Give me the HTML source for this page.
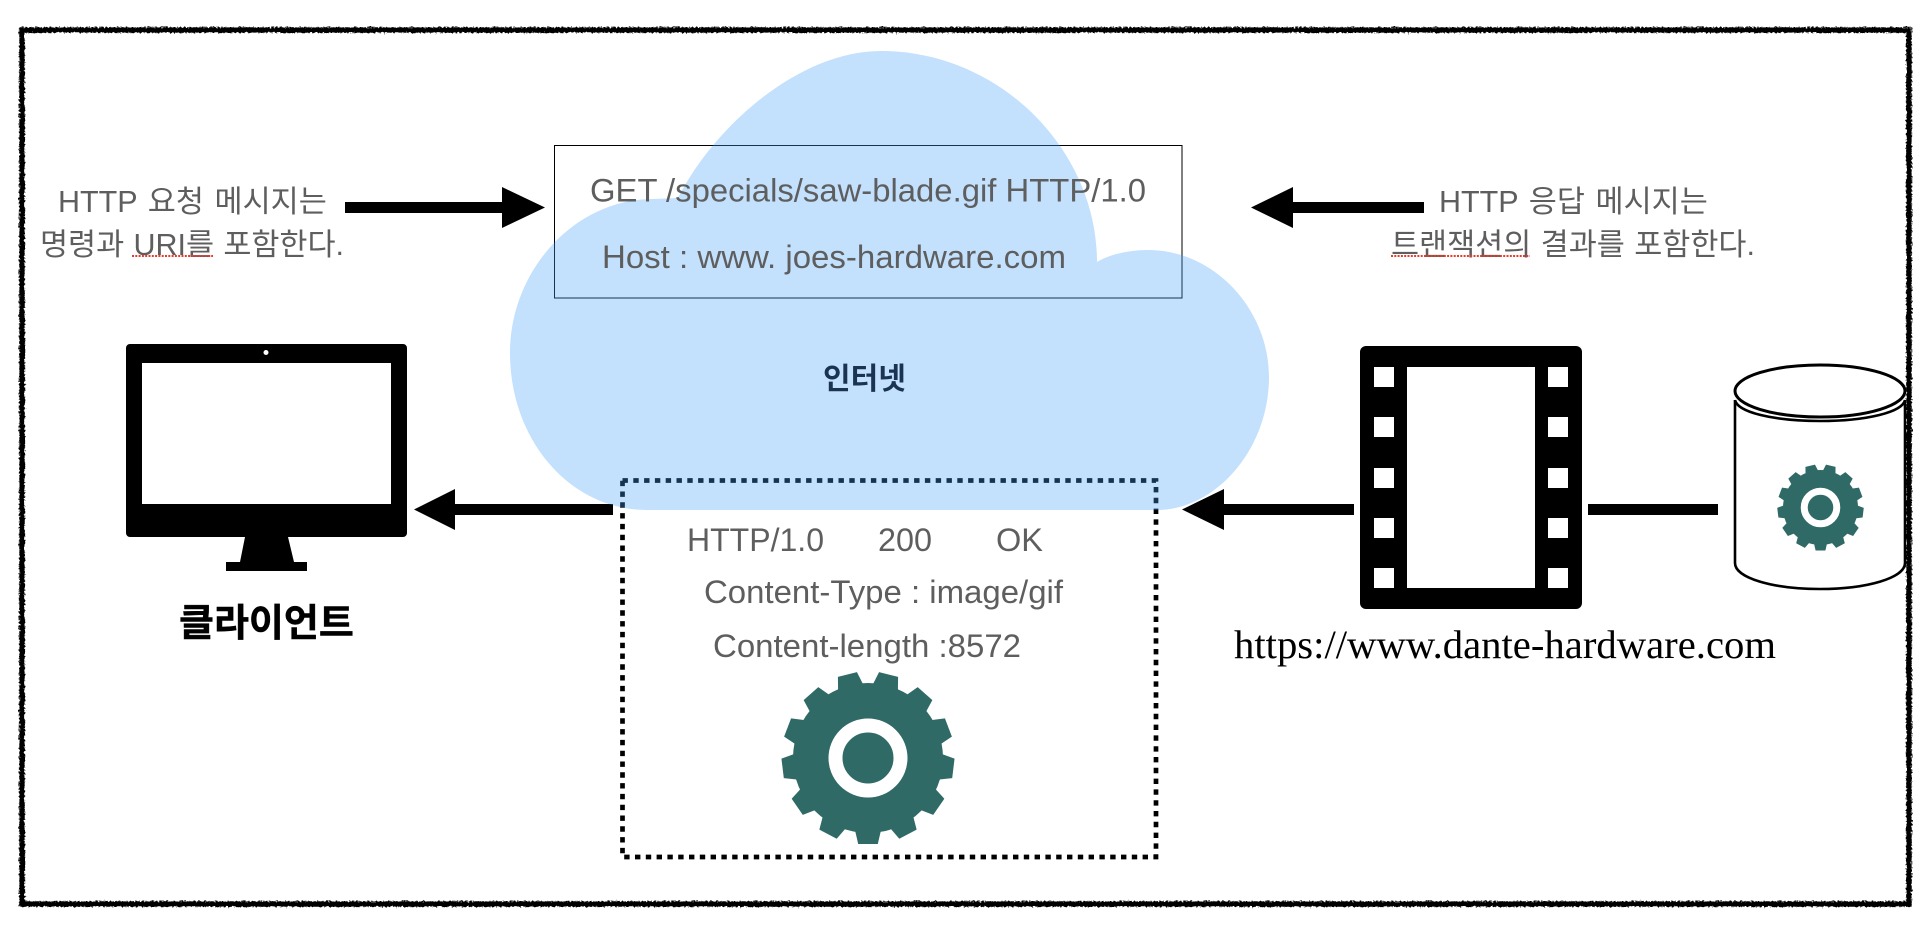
<!DOCTYPE html>
<html><head><meta charset="utf-8"><style>
html,body{margin:0;padding:0;background:#fff;width:1932px;height:928px;overflow:hidden}
svg{display:block}
.k{font-family:"Liberation Sans","Noto Sans CJK KR",sans-serif;font-size:30.5px;fill:#5e5e5e}
.t{font-family:"Liberation Sans","Noto Sans CJK KR",sans-serif;font-size:32.5px;fill:#5e5e5e}
.b{font-family:"Liberation Sans","Noto Sans CJK KR",sans-serif;font-weight:700}
.s{font-family:"Liberation Serif",serif;font-size:40px;fill:#000}
</style></head><body>
<svg width="1932" height="928" viewBox="0 0 1932 928" xmlns="http://www.w3.org/2000/svg">
<defs>
<filter id="rough" filterUnits="userSpaceOnUse" x="0" y="0" width="1932" height="928">
<feTurbulence type="fractalNoise" baseFrequency="0.5" numOctaves="2" seed="3" result="n"/>
<feDisplacementMap in="SourceGraphic" in2="n" scale="4" xChannelSelector="R" yChannelSelector="G"/>
</filter>
<g id="tooth"><polygon points="-12.7,73.5 -9.8,86 9.8,86 12.7,73.5"/></g>
<g id="gear">
<circle r="75"/>
<use href="#tooth"/>
<use href="#tooth" transform="rotate(27.692)"/>
<use href="#tooth" transform="rotate(55.385)"/>
<use href="#tooth" transform="rotate(83.077)"/>
<use href="#tooth" transform="rotate(110.769)"/>
<use href="#tooth" transform="rotate(138.462)"/>
<use href="#tooth" transform="rotate(166.154)"/>
<use href="#tooth" transform="rotate(193.846)"/>
<use href="#tooth" transform="rotate(221.538)"/>
<use href="#tooth" transform="rotate(249.231)"/>
<use href="#tooth" transform="rotate(276.923)"/>
<use href="#tooth" transform="rotate(304.615)"/>
<use href="#tooth" transform="rotate(332.308)"/>
<circle r="32.5" fill="none" stroke="#fff" stroke-width="14"/>
</g>
</defs>

<rect x="22" y="30" width="1887" height="874" fill="none" stroke="#000" stroke-width="5.5" filter="url(#rough)"/>

<!-- request box -->
<rect x="554.5" y="145.5" width="627.5" height="152.5" fill="none" stroke="#000" stroke-width="1"/>

<!-- arrows -->
<g fill="#000">
<rect x="345" y="202" width="158" height="11"/><polygon points="502,187 545,207.5 502,228"/>
<rect x="1292" y="202" width="132" height="11"/><polygon points="1293,187 1251,207.5 1293,228"/>
<rect x="454" y="504" width="159" height="11"/><polygon points="455,489 414,509.5 455,530"/>
<rect x="1223" y="504" width="131" height="11"/><polygon points="1224,489 1182,509.5 1224,530"/>
<rect x="1588" y="504" width="130" height="11"/>
</g>

<!-- monitor -->
<path fill="#000" fill-rule="evenodd" d="M130,344H403a4,4 0 0 1 4,4V533a4,4 0 0 1 -4,4H130a4,4 0 0 1 -4,-4V348a4,4 0 0 1 4,-4ZM142,363V504H391V363Z"/>
<circle cx="266" cy="352.5" r="2.5" fill="#fff"/>
<polygon fill="#000" points="245,537 288,537 294,562 307,562 307,571 226,571 226,562 240,562"/>
<text class="b" x="179" y="636" font-size="38" fill="#000" stroke="#000" stroke-width=".5">클라이언트</text>

<!-- film -->
<rect x="1360" y="346" width="222" height="263" rx="6" fill="#000"/>
<rect x="1407" y="367" width="128" height="221" fill="#fff"/>
<g fill="#fff">
<rect x="1374" y="367" width="20" height="20"/><rect x="1548" y="367" width="20" height="20"/>
<rect x="1374" y="417" width="20" height="20"/><rect x="1548" y="417" width="20" height="20"/>
<rect x="1374" y="468" width="20" height="20"/><rect x="1548" y="468" width="20" height="20"/>
<rect x="1374" y="518" width="20" height="20"/><rect x="1548" y="518" width="20" height="20"/>
<rect x="1374" y="568" width="20" height="20"/><rect x="1548" y="568" width="20" height="20"/>
</g>

<!-- cylinder -->
<g fill="none" stroke="#000" stroke-width="2.6">
<ellipse cx="1820" cy="391" rx="85" ry="26" stroke-width="3"/>
<path d="M1735,400C1737,412 1773,421 1820,421S1903,412 1905,400"/>
<path d="M1735,400V563C1735,578 1773,589 1820,589S1905,578 1905,563V400"/>
</g>
<use href="#gear" transform="translate(1820.5,507.5) scale(.5)" fill="#2f6a66"/>

<!-- response box -->
<rect x="622.5" y="480.5" width="533.5" height="376.5" fill="none" stroke="#000" stroke-width="4.7" stroke-dasharray="5.4 5.4"/>
<use href="#gear" transform="translate(868,758)" fill="#2f6a66"/>

<!-- cloud, translucent over box lines and arrows -->
<path fill="#459efa" fill-opacity=".32" d="M647,510C570,510 510,440 510,353C510,270 575,199 653,199L678,198C715,125 800,51 881,51C1000,51 1097,150 1097,262C1110,254 1130,250 1148,250C1215,250 1269,310 1269,377C1269,450 1215,510 1157,510Z"/>

<!-- texts above cloud -->
<text class="k" x="58" y="212" word-spacing="2.2">HTTP 요청 메시지는</text>
<text class="k" x="40" y="255" word-spacing="0.8">명령과 URI를 포함한다.</text>
<line x1="132" y1="256" x2="213" y2="256" stroke="#e8392f" stroke-width="2" stroke-dasharray="2 1.3"/>
<text class="k" x="1439" y="212" word-spacing="2.2">HTTP 응답 메시지는</text>
<text class="k" x="1391" y="255" word-spacing="0.9">트랜잭션의 결과를 포함한다.</text>
<line x1="1391" y1="256" x2="1530" y2="256" stroke="#e8392f" stroke-width="2" stroke-dasharray="2 1.3"/>

<text class="t" x="590" y="201.5" textLength="556" lengthAdjust="spacingAndGlyphs">GET /specials/saw-blade.gif HTTP/1.0</text>
<text class="t" x="602" y="268" textLength="464" lengthAdjust="spacingAndGlyphs">Host : www. joes-hardware.com</text>
<text class="b" x="823" y="389" font-size="30" fill="#1a3353">인터넷</text>

<text class="t" x="687" y="551" textLength="137" lengthAdjust="spacingAndGlyphs">HTTP/1.0</text>
<text class="t" x="878" y="551" textLength="54" lengthAdjust="spacingAndGlyphs">200</text>
<text class="t" x="996" y="551" textLength="47" lengthAdjust="spacingAndGlyphs">OK</text>
<text class="t" x="704" y="603" textLength="359" lengthAdjust="spacingAndGlyphs">Content-Type : image/gif</text>
<text class="t" x="713" y="657" textLength="308" lengthAdjust="spacingAndGlyphs">Content-length :8572</text>
<text class="s" x="1234" y="658" textLength="542" lengthAdjust="spacingAndGlyphs">https://www.dante-hardware.com</text>
</svg>
</body></html>
